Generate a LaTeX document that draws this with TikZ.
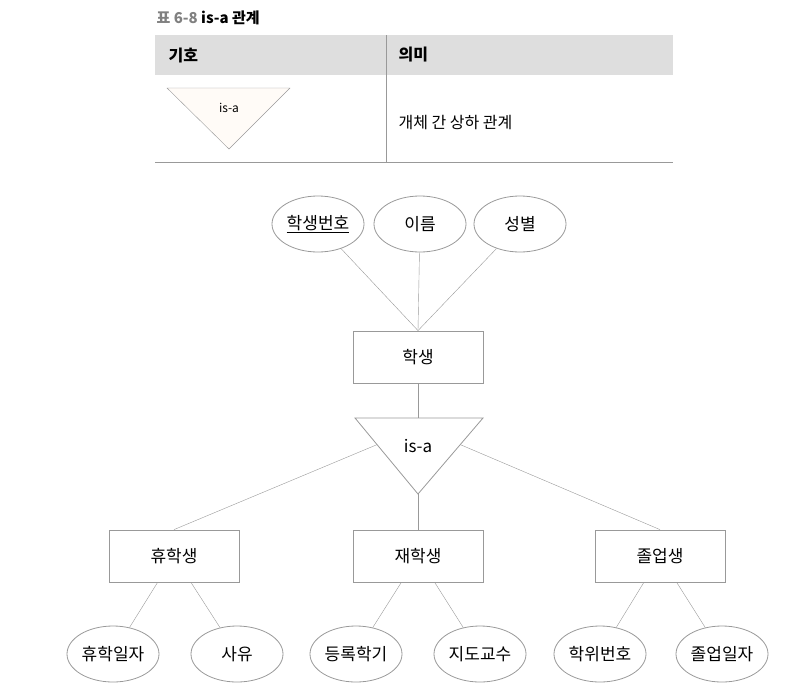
\documentclass[tikz,border=0pt]{standalone}
\usepackage{fontspec}
\setmainfont{Noto Sans CJK KR}
\usetikzlibrary{shapes.geometric,calc}
\definecolor{linegray}{gray}{0.6}
\definecolor{headgray}{gray}{0.87}
\tikzset{
    attr/.style={draw=linegray, thick, ellipse, minimum width=92pt, minimum height=56pt, inner sep=0pt, font=\fontsize{17}{17}\selectfont},
    entity/.style={draw=linegray, thick, minimum width=130pt, minimum height=52pt, font=\fontsize{17}{17}\selectfont},
    link/.style={draw=linegray, thin}
}
\begin{document}
\begin{tikzpicture}[x=1pt,y=-1pt]
    \useasboundingbox(0,0)rectangle(787,689);

    % table
    \node[anchor=west, font=\fontsize{15}{15}\selectfont\bfseries](title)at(153,18){\textcolor{gray}{표 6-8}\ is-a 관계};
    \fill[headgray](155,35)rectangle(673,75);
    \draw[linegray](386,35)--(386,162);
    \draw[linegray](155,162)--(673,162);
    \node[anchor=west, font=\fontsize{16}{16}\selectfont\bfseries](sym)at(165,55){기호};
    \node[anchor=west, font=\fontsize{16}{16}\selectfont\bfseries](mean)at(395,55){의미};
    \draw[linegray, fill=white!97!orange](167,88)--(290,88)--(229,149)--cycle;
    \node[font=\fontsize{12}{12}\selectfont](symisa)at(229,108){is-a};
    \node[anchor=west, font=\fontsize{16}{16}\selectfont](meantext)at(395,123){개체 간 상하 관계};

    % diagram
    \node[attr](sid)at(318,224){\underline{학생번호}};
    \node[attr](name)at(420,224){이름};
    \node[attr](sex)at(520,224){성별};
    \node[entity](student)at(418,357){학생};

    \coordinate(isal)at(355,418);
    \coordinate(isar)at(483,418);
    \coordinate(isab)at(418,494);
    \draw[linegray, thick](isal)--(isar)--(isab)--cycle;
    \node[font=\fontsize{17}{17}\selectfont](isa)at(418,446){is-a};
    \coordinate(isat)at(418,418);

    \node[entity](leave)at(174,556){휴학생};
    \node[entity](enrol)at(418,556){재학생};
    \node[entity](grad)at(660,556){졸업생};

    \node[attr](leavedate)at(113,654){휴학일자};
    \node[attr](reason)at(237,654){사유};
    \node[attr](term)at(356,654){등록학기};
    \node[attr](advisor)at(480,654){지도교수};
    \node[attr](degree)at(600,654){학위번호};
    \node[attr](graddate)at(722,654){졸업일자};

    \draw[link](sid)--(student.north);
    \draw[link](name)--(student.north);
    \draw[link](sex)--(student.north);
    \draw[link](student)--(isat);
    \draw[link](leave.north)--($(isal)!0.35!(isab)$);
    \draw[link](enrol.north)--(isab);
    \draw[link](grad.north)--($(isar)!0.35!(isab)$);
    \draw[link](leave)--(leavedate);
    \draw[link](leave)--(reason);
    \draw[link](enrol)--(term);
    \draw[link](enrol)--(advisor);
    \draw[link](grad)--(degree);
    \draw[link](grad)--(graddate);
\end{tikzpicture}
\end{document}
